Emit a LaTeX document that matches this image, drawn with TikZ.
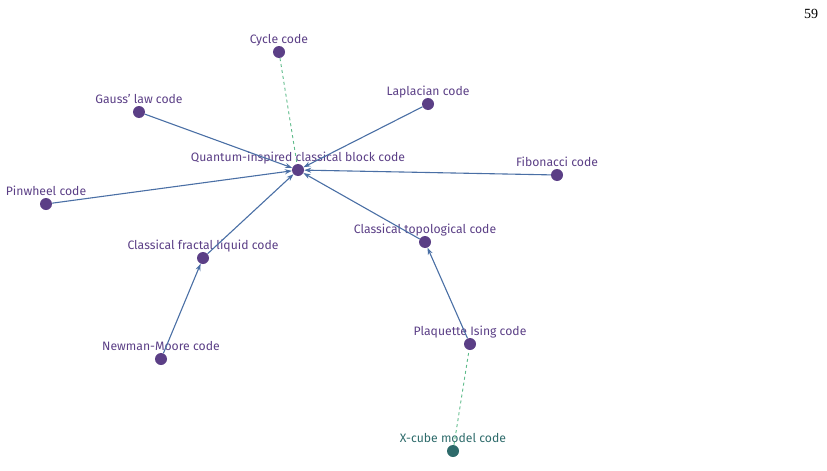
\documentclass[tikz,border=0pt]{standalone}
\usepackage{fontspec}
\setmainfont{Fira Sans}
\newfontfamily\pagenumfont{Liberation Serif}
\usetikzlibrary{arrows.meta}
\definecolor{nodepurple}{HTML}{5B3F86}
\definecolor{nodeteal}{HTML}{2E6B6B}
\definecolor{edgeblue}{HTML}{4A6FA5}
\definecolor{edgegreen}{HTML}{5DBB8A}
\tikzset{
  x=1pt,y=-1pt,
  labeltext/.style={font=\fontsize{12.2}{14}\selectfont,text height=0.72em,text depth=0.22em,label distance=-3.5pt},
  codept/.style={circle,fill=nodepurple,inner sep=0pt,minimum size=12pt,
    label={[labeltext,text=nodepurple]above:#1}},
  codeteal/.style={circle,fill=nodeteal,inner sep=0pt,minimum size=12pt,
    label={[labeltext,text=nodeteal]above:#1}},
  solidedge/.style={draw=edgeblue,line width=1.1pt,-{Stealth[length=7pt,width=5pt]}},
  dashedge/.style={draw=edgegreen,line width=0.9pt,dashed}
}
\begin{document}
\begin{tikzpicture}
\useasboundingbox (0,0) rectangle (827,471);
\node[codept={Cycle code}] (cyc) at (279,52) {};
\node[codept={Gauss\char"0027{} law code}] (gauss) at (139,112) {};
\node[codept={Laplacian code}] (lap) at (428,104) {};
\node[codept={Quantum-inspired classical block code}] (qicb) at (298,170) {};
\node[codept={Fibonacci code}] (fib) at (557,175) {};
\node[codept={Pinwheel code}] (pin) at (46,204) {};
\node[codept={Classical fractal liquid code}] (cfl) at (203,258) {};
\node[codept={Classical topological code}] (ctop) at (425,242) {};
\node[codept={Plaquette Ising code}] (plaq) at (470,344) {};
\node[codept={Newman-Moore code}] (nm) at (161,359) {};
\node[codeteal={X-cube model code}] (xc) at (453,451) {};
\node[font=\pagenumfont\fontsize{14}{16}\selectfont] (pg) at (811,14) {59};

\draw[dashedge] (cyc) -- (qicb);
\draw[solidedge] (gauss) -- (qicb);
\draw[solidedge] (lap) -- (qicb);
\draw[solidedge] (fib) -- (qicb);
\draw[solidedge] (pin) -- (qicb);
\draw[solidedge] (cfl) -- (qicb);
\draw[solidedge] (ctop) -- (qicb);
\draw[solidedge] (nm) -- (cfl);
\draw[solidedge] (plaq) -- (ctop);
\draw[dashedge] (xc) -- (plaq);
\end{tikzpicture}
\end{document}
